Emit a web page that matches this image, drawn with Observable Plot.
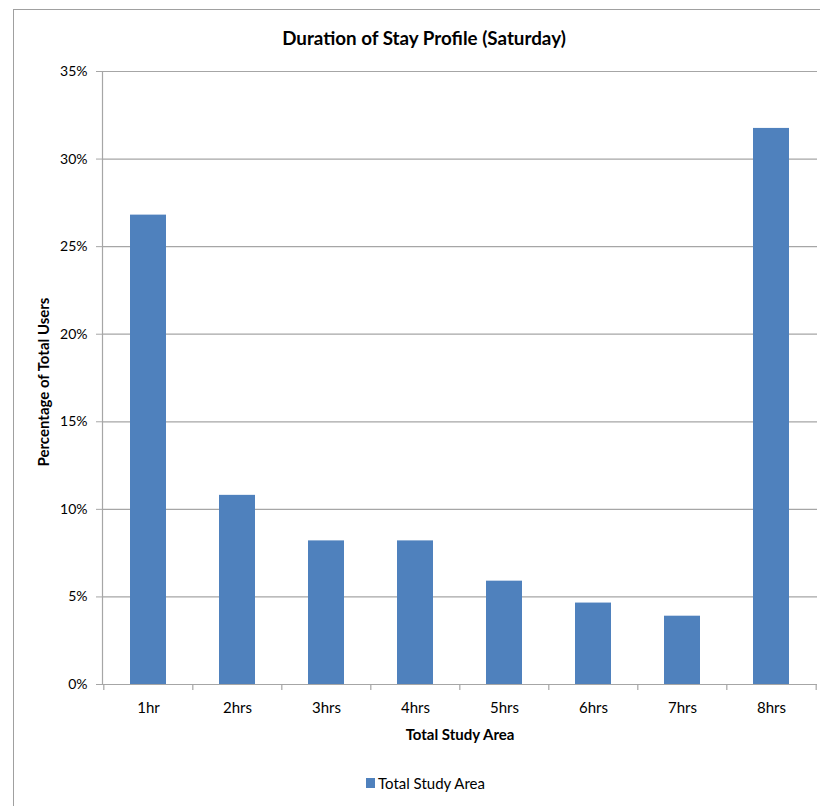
<!DOCTYPE html>
<html><head><meta charset="utf-8">
<script src="https://cdn.jsdelivr.net/npm/d3@7"></script>
<script src="https://cdn.jsdelivr.net/npm/@observablehq/plot@0.6"></script>
<style>
body{margin:0;background:#fff;font-family:Lato,"Open Sans",sans-serif;color:#000;}
#wrap{position:relative;width:820px;height:806px;overflow:hidden;}
#frame{position:absolute;left:13px;top:9px;width:840px;height:840px;border:1px solid #a0a0a0;box-sizing:border-box;}
#title{position:absolute;top:27px;left:0;width:848px;text-align:center;font-weight:bold;font-size:18.8px;line-height:22px;}
#chart{position:absolute;left:0;top:50px;}
#legend{position:absolute;left:366px;top:774px;font-size:15px;line-height:18px;display:flex;align-items:center;}
#legend span.sw{display:inline-block;width:9px;height:10px;background:#4F81BD;margin-right:3px;}
</style></head>
<body>
<div id="wrap">
  <div id="frame"></div>
  <div id="title">Duration of Stay Profile (Saturday)</div>
  <div id="chart"></div>
  <div id="legend"><span class="sw"></span><span id="legtext"></span></div>
</div>
<script>
const categories = ["1hr","2hrs","3hrs","4hrs","5hrs","6hrs","7hrs","8hrs"];
const values = [26.8, 10.8, 8.2, 8.2, 5.9, 4.65, 3.9, 31.75];
const yTicks = [0,5,10,15,20,25,30,35];
const seriesName = "Total Study Area";
const xLabel = "Total Study Area";
const yLabel = "Percentage of Total Users";

const data = categories.map((c,i)=>({category:c, value:values[i]}));
const W=820, H=710, ML=102, MR=3, MT=21, MB=76;
const step = (W-ML-MR)/categories.length;
const grid = "#a6a6a6";

const chart = Plot.plot({
  width:W, height:H, marginLeft:ML, marginRight:MR, marginTop:MT, marginBottom:MB,
  style:{fontFamily:"Lato, 'Open Sans', sans-serif", fontSize:"14px", color:"#000", background:"transparent"},
  x:{domain:categories, paddingInner:0.6, paddingOuter:0.3, label:null},
  y:{domain:[0,35], label:null},
  marks:[
    Plot.ruleY(yTicks,{stroke:grid, strokeWidth:1.2}),
    Plot.barY(data,{x:"category", y:"value", fill:"#4F81BD"}),
    Plot.frame({anchor:"left", stroke:grid, strokeWidth:1.2}),
    Plot.axisY({ticks:yTicks, tickFormat:d=>d+"%", tickSize:6, tickPadding:9, stroke:grid, label:null, fontSize:14}),
    Plot.axisX({tickSize:0, tickPadding:18, label:null, fontSize:15}),
    Plot.ruleX(categories,{x:d=>d, y1:0, y2:0, insetBottom:-6, dx:-step/2, stroke:grid, strokeWidth:1.2}),
    Plot.ruleX([categories[categories.length-1]],{x:d=>d, y1:0, y2:0, insetBottom:-6, dx:step/2, stroke:grid, strokeWidth:1.2}),
    Plot.text([yLabel],{frameAnchor:"left", rotate:-90, dx:-58, dy:4, textAnchor:"middle", lineAnchor:"middle", fontWeight:"bold", fontSize:15}),
    Plot.text([xLabel],{frameAnchor:"bottom", dy:51, lineAnchor:"middle", fontWeight:"bold", fontSize:15})
  ]
});
document.getElementById("chart").appendChild(chart);
document.getElementById("legtext").textContent = seriesName;
</script>
</body></html>
